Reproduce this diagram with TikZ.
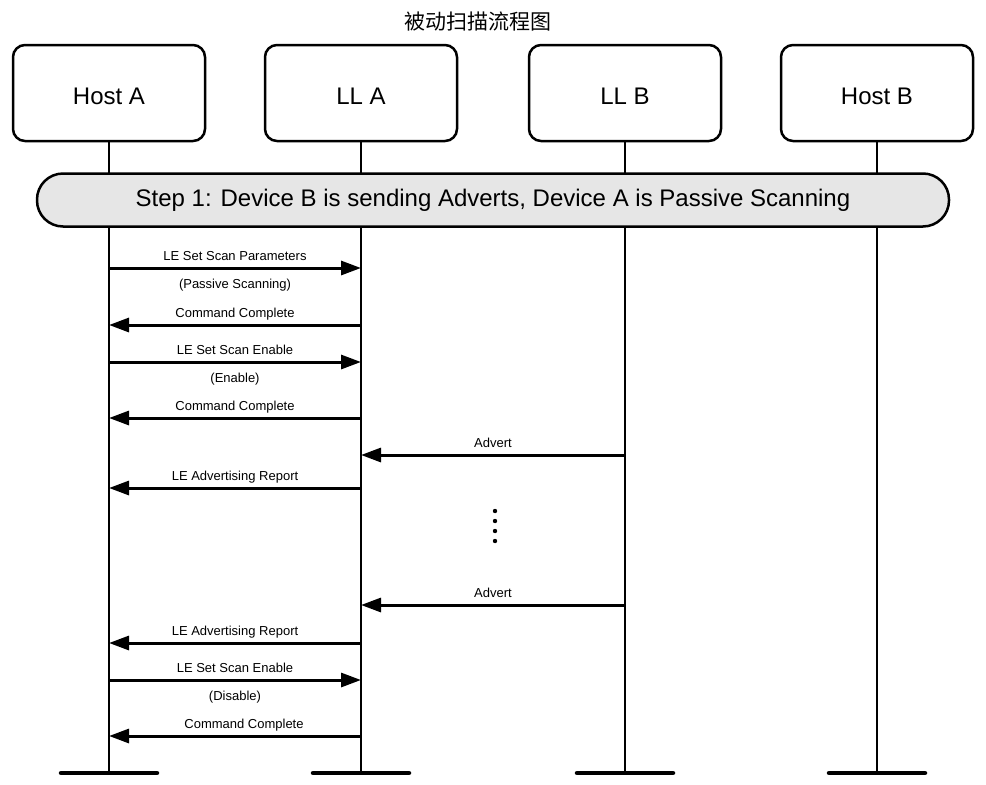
\documentclass[tikz,border=0pt]{standalone}
\usepackage{fontspec}
\setmainfont{Liberation Sans}
\newfontfamily\cjk{Noto Sans CJK SC}
\usepackage{xcolor}
\definecolor{StepGray}{RGB}{230, 230, 230}
\usetikzlibrary{arrows.meta}

\tikzset{
  entity/.style = {draw, line width=2.5pt, rounded corners=12pt, minimum width=192pt, minimum height=96pt, text height=23pt, text depth=0pt, font=\fontsize{24}{28}\selectfont},
  stepbar/.style = {draw, fill=StepGray, line width=2.5pt, rounded corners=26pt, minimum width=912pt, minimum height=53pt, text height=17pt, text depth=5pt, font=\fontsize{24}{28}\selectfont},
  lifeline/.style = {line width=2.5pt},
  foot/.style = {line width=4.5pt, line cap=round},
  msg/.style = {line width=3pt, -{Triangle[length=20pt, width=14pt]}},
  lbl/.style = {font=\fontsize{13}{15}\selectfont, text height=9.5pt, text depth=2.5pt, inner sep=0pt},
}

\begin{document}
\begin{tikzpicture}[x = 1pt, y = -1pt]
            \useasboundingbox (0, 0) rectangle (986, 785);
            %标题
            \node[font = \cjk\fontsize{21}{24}\selectfont] (title) at (478, 22) {被动扫描流程图};
            %四个实体
            \node[entity] (hostA) at (109, 93) {Host A};
            \node[entity] (llA) at (361, 93) {LL A};
            \node[entity] (llB) at (625, 93) {LL B};
            \node[entity] (hostB) at (877, 93) {Host B};
            %生命线
            \foreach \n in {hostA, llA, llB, hostB} {
                \draw[lifeline] (\n.south) -- (\n |- 0, 773) coordinate (\n-end);
                \draw[foot] ([xshift = -48pt]\n-end) -- ([xshift = 48pt]\n-end);
            }
            %步骤
            \node[stepbar] (step1) at (493, 200) {Step 1: Device B is sending Adverts, Device A is Passive Scanning};
            %消息
            \foreach \y/\f/\t/\dx/\above/\below in {
                268/hostA/llA/0/LE Set Scan Parameters/(Passive Scanning),
                325/llA/hostA/0/Command Complete/,
                362/hostA/llA/0/LE Set Scan Enable/(Enable),
                418/llA/hostA/0/Command Complete/,
                455/llB/llA/0/Advert/,
                488/llA/hostA/0/LE Advertising Report/,
                605/llB/llA/0/Advert/,
                643/llA/hostA/0/LE Advertising Report/,
                680/hostA/llA/0/LE Set Scan Enable/(Disable),
                736/llA/hostA/9/Command Complete/} {
                \draw[msg] (\f |- 0, \y) -- (\t |- 0, \y)
                    node[lbl, midway, yshift = 11pt, xshift = \dx pt] {\above}
                    node[lbl, midway, yshift = -16.5pt] {\below};
            }
            %省略号
            \foreach \d in {511, 521, 531, 541}
                \fill (495, \d) circle (2.2pt);
        \end{tikzpicture}
\end{document}
